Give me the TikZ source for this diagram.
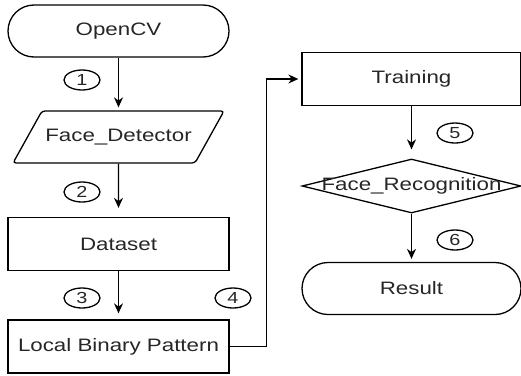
\documentclass[tikz,border=0pt]{standalone}
\usepackage{fontspec}
\setmainfont{Liberation Sans}[FakeStretch=1.24]
\usetikzlibrary{arrows.meta,shapes.geometric}

\begin{document}
\begin{tikzpicture}[x=1pt,y=-1pt,line width=1.3pt,
  every node/.style={font=\fontsize{18}{20}\selectfont,text=black!85},
  term/.style={draw,rounded corners=26,minimum width=221,minimum height=52},
  box/.style={draw,minimum width=221,minimum height=53},
  io/.style={draw,trapezium,trapezium left angle=38,trapezium right angle=142,
    trapezium stretches body=true,minimum width=210,minimum height=52,rounded corners=3},
  dec/.style={draw,diamond,minimum width=219,minimum height=54,inner sep=0},
  num/.style={draw,ellipse,minimum width=36,minimum height=20,inner sep=0,
    font=\fontsize{16}{18}\selectfont},
  arr/.style={-{Stealth[length=10pt,width=9pt]}}]
  \useasboundingbox (0,0) rectangle (521,375);
  \node[term] (cv) at (118.5,31) {OpenCV};
  \node[io] (fd) at (118.5,137) {Face\_Detector};
  \node[box] (ds) at (118.5,244) {Dataset};
  \node[box] (lbp) at (118.5,346.5) {Local Binary Pattern};
  \node[box,minimum width=219] (tr) at (411.5,79) {Training};
  \node[dec,label=center:{Face\_Recognition}] (fr) at (411.5,186) {};
  \node[term,minimum width=219] (res) at (411.5,288.5) {Result};

  \node[num] (n1) at (82,80) {1};
  \node[num] (n2) at (82,192) {2};
  \node[num] (n3) at (82,298) {3};
  \node[num] (n4) at (233,298) {4};
  \node[num] (n5) at (455,133) {5};
  \node[num] (n6) at (455,240) {6};

  \draw[arr,shorten >=3] (cv) -- (fd);
  \draw[arr,shorten >=9] (fd) -- (ds);
  \draw[arr,shorten >=6] (ds) -- (lbp);
  \draw[arr,shorten >=3] (lbp.east) -- ++(37,0) |- (tr.west);
  \draw[arr,shorten >=9] (tr) -- (fr);
  \draw[arr,shorten >=3] (fr) -- (res);
\end{tikzpicture}
\end{document}
